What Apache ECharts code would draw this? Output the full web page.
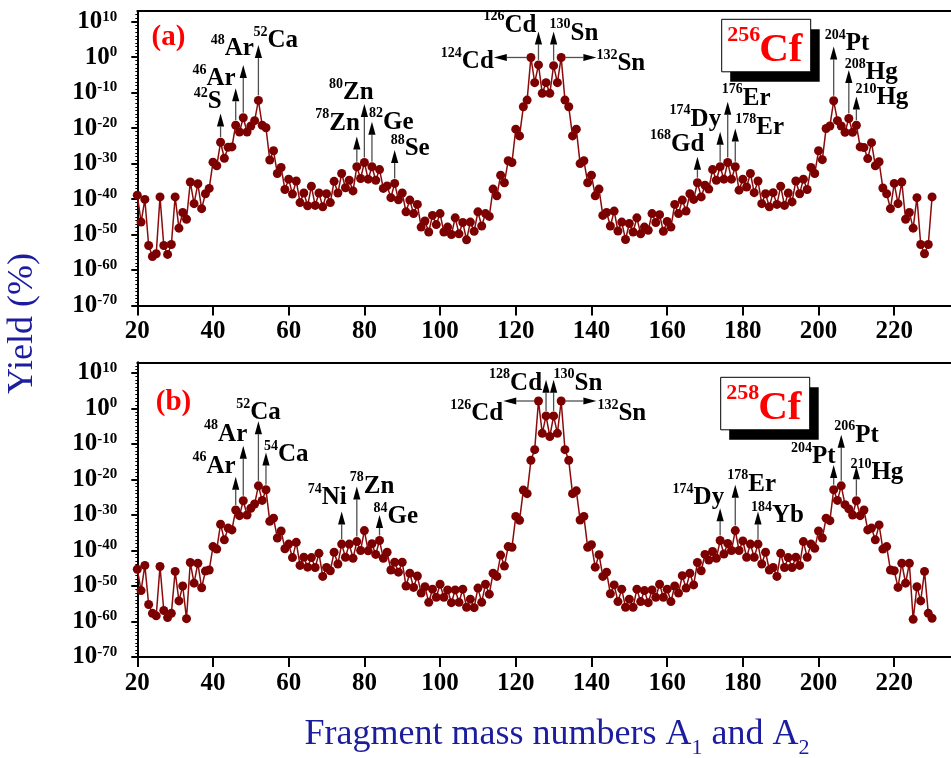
<!DOCTYPE html>
<html>
<head>
<meta charset="utf-8">
<script src="https://cdn.jsdelivr.net/npm/echarts@6/dist/echarts.min.js"></script>
<style>
  html, body { margin: 0; padding: 0; background: #ffffff; }
  #chart { width: 951px; height: 758px; }
</style>
</head>
<body>
<div id="chart"></div>
<script>
// Fission fragment yields, stored as log10(yield %) for mass numbers A = 20 ... 230
const massStart = 20;

const logYield256Cf = [
  -38.9, -46.5, -40.1, -53.1, -56.2, -55.4, -39.4, -53.1, -55.6, -52.8,   // 20-29
  -39.4, -48.2, -43.8, -45.7, -35.2, -41.3, -35.7, -42.7, -38.5, -37.0,   // 30-39
  -29.6, -30.6, -24.0, -28.5, -25.4, -25.3, -19.2, -21.1, -17.1, -21.1,   // 40-49
  -19.4, -17.9, -12.2, -19.2, -19.9, -29.0, -26.4, -32.8, -31.1, -37.3,   // 50-59
  -34.4, -38.6, -34.9, -41.0, -38.3, -41.9, -36.4, -41.8, -38.3, -42.2,   // 60-69
  -38.5, -41.0, -35.0, -38.3, -32.8, -36.8, -34.7, -37.7, -30.9, -34.2,   // 70-79
  -29.7, -34.4, -30.9, -34.7, -31.7, -37.0, -36.3, -39.6, -35.6, -40.2,   // 80-89
  -38.3, -43.6, -40.3, -44.1, -41.5, -47.9, -46.2, -49.3, -44.6, -47.2,   // 90-99
  -44.1, -49.3, -47.9, -50.0, -45.3, -49.8, -46.6, -51.5, -46.5, -49.1,   // 100-109
  -43.6, -47.6, -44.1, -44.9, -37.2, -39.1, -33.3, -35.4, -29.2, -29.7,   // 110-119
  -20.3, -22.2, -14.0, -12.1,  -0.1,  -7.2,  -2.2, -10.2,  -7.2, -10.2,   // 120-129
   -2.4,  -7.2,  -0.1, -12.1, -14.0, -22.2, -20.3, -30.0, -29.2, -35.4,   // 130-139
  -33.3, -39.1, -37.2, -44.6, -43.8, -47.6, -43.4, -49.0, -46.5, -51.4,   // 140-149
  -46.9, -49.3, -45.3, -49.8, -47.9, -48.8, -44.1, -46.6, -44.4, -49.1,   // 150-159
  -46.3, -47.9, -41.5, -44.1, -40.3, -43.4, -38.5, -40.1, -35.4, -39.4,   // 160-169
  -36.1, -37.2, -31.7, -34.7, -30.9, -34.4, -29.7, -34.4, -30.9, -37.5,   // 170-179
  -34.4, -36.6, -32.8, -38.2, -34.9, -41.3, -38.5, -42.2, -38.2, -41.5,   // 180-189
  -36.4, -41.8, -38.3, -40.8, -34.9, -38.5, -34.4, -37.3, -31.1, -32.8,   // 190-199
  -26.4, -28.9, -20.1, -19.4, -12.3, -17.9, -19.4, -21.2, -17.3, -21.2,   // 200-209
  -19.2, -25.3, -25.5, -28.6, -24.1, -30.6, -29.5, -36.9, -38.5, -42.7,   // 210-219
  -35.6, -41.3, -35.2, -45.7, -43.8, -48.2, -39.6, -52.8, -55.4, -52.8,   // 220-229
  -39.4                                                                   // 230
];

const logYield258Cf = [
  -45.3, -51.3, -44.2, -55.2, -57.7, -58.4, -44.5, -56.9, -58.9, -57.7,   // 20-29
  -45.9, -54.2, -50.0, -59.2, -43.4, -49.2, -43.6, -50.5, -45.8, -45.5,   // 30-39
  -38.9, -39.6, -32.6, -37.0, -33.7, -34.2, -28.6, -30.2, -26.0, -30.0,   // 40-49
  -28.1, -26.9, -21.8, -25.9, -22.9, -31.8, -30.9, -36.5, -34.5, -39.5,   // 50-59
  -38.2, -42.0, -37.7, -44.2, -41.9, -44.7, -42.0, -44.8, -40.8, -47.3,   // 60-69
  -44.8, -45.7, -40.5, -43.8, -38.2, -41.9, -38.2, -42.2, -37.5, -40.0,   // 70-79
  -34.4, -40.1, -38.1, -41.1, -37.2, -42.2, -40.5, -45.5, -43.3, -46.1,   // 80-89
  -43.3, -50.0, -46.4, -50.4, -47.2, -52.0, -50.2, -54.6, -50.9, -53.2,   // 90-99
  -49.5, -53.2, -51.1, -54.7, -51.1, -54.6, -50.9, -56.0, -53.7, -56.1,   // 100-109
  -50.6, -54.6, -49.5, -52.3, -46.4, -47.3, -41.3, -44.4, -38.9, -39.1,   // 110-119
  -30.4, -31.5, -23.0, -24.0, -14.6, -11.6,   2.1,  -7.0,  -2.1,  -7.9,   // 120-129
   -2.1,  -7.0,   2.1, -11.6, -14.6, -24.0, -23.2, -31.4, -30.4, -39.1,   // 130-139
  -38.4, -44.7, -41.2, -47.3, -46.1, -52.2, -49.7, -54.4, -50.9, -56.0,   // 140-149
  -53.7, -56.0, -50.9, -54.4, -51.3, -54.7, -51.1, -53.2, -49.5, -53.2,   // 150-159
  -50.9, -54.4, -50.0, -52.0, -47.1, -50.6, -46.4, -49.7, -43.4, -45.7,   // 160-169
  -41.1, -42.7, -40.3, -42.2, -37.2, -41.0, -38.0, -40.0, -34.4, -40.0,   // 170-179
  -37.3, -41.9, -38.2, -41.9, -38.2, -43.8, -40.5, -45.5, -44.8, -47.3,   // 180-189
  -40.8, -44.8, -42.0, -44.8, -41.9, -44.2, -37.5, -41.9, -38.2, -39.4,   // 190-199
  -34.5, -36.5, -30.9, -31.6, -22.9, -25.9, -21.8, -27.1, -28.3, -30.0,   // 200-209
  -26.0, -30.2, -28.6, -34.2, -33.7, -37.0, -32.8, -39.6, -38.9, -45.5,   // 210-219
  -45.7, -50.4, -43.6, -49.2, -43.6, -59.4, -50.2, -54.2, -45.9, -57.7,   // 220-229
  -59.1                                                                   // 230
];

const xTicks = [20, 40, 60, 80, 100, 120, 140, 160, 180, 200, 220];
const yTicks = [-70, -60, -50, -40, -30, -20, -10, 0, 10];   // powers of ten

// Marked fragments: [mass, element, arrow tip (log10 yield), horizontal arrow tip (mass)]
const marks256 = [
  [42, 'S', -15.9], [46, 'Ar', -8.8], [48, 'Ar', -2.2], [52, 'Ca', 3.4],
  [78, 'Zn', -22.4], [80, 'Zn', -13.2], [82, 'Ge', -18.2], [88, 'Se', -26.2],
  [124, 'Cd', null, 114.2], [126, 'Cd', 7.2], [130, 'Sn', 7.2], [132, 'Sn', null, 141.3],
  [168, 'Gd', -28.1], [174, 'Dy', -21.0], [176, 'Er', -12.6], [178, 'Er', -20.1],
  [204, 'Pt', 3.0], [208, 'Hg', -3.6], [210, 'Hg', -11.1]
];
const marks258 = [
  [46, 'Ar', -19.2], [48, 'Ar', -10.5], [52, 'Ca', -3.6], [54, 'Ca', -12.4],
  [74, 'Ni', -29.0], [78, 'Zn', -22.0], [84, 'Ge', -30.0],
  [126, 'Cd', null, 116.7], [128, 'Cd', 8.1], [130, 'Sn', 8.1], [132, 'Sn', null, 141.3],
  [174, 'Dy', -28.1], [178, 'Er', -21.5], [184, 'Yb', -29.0],
  [204, 'Pt', -15.9], [206, 'Pt', -7.4], [210, 'Hg', -16.3]
];

// Label placement next to each arrow head: [text alignment, dx, dy] in pixels
const place256 = [
  ['right', 1, -13], ['right', 0, -11], ['center', -11, -18], ['left', -5, -6],
  ['right', 3, -15], ['center', -13, -13], ['left', -3, -1], ['left', -4, -3],
  ['right', 0, 3], ['right', -2, -8], ['left', -4, 0], ['left', 0, 5],
  ['right', 7, -14], ['right', 1, -14], ['left', -6, -5], ['left', 0, -2],
  ['left', -9, -4], ['left', -4, 1], ['left', -1, 0]
];
const place258 = [
  ['right', 0, -12], ['right', 4, -13], ['center', 0, -10], ['left', -2, 1],
  ['right', 5, -15], ['left', -7, -2], ['left', -6, 0],
  ['right', 0, 11], ['right', -4, 2], ['left', 0, 2], ['left', 1, 11],
  ['right', 4, -12], ['left', -8, -2], ['left', -7, 3],
  ['right', 2, -10], ['left', -7, -1], ['left', -6, 5]
];

const SERIF = "'Times New Roman', 'Liberation Serif', serif";
const LINE_RED = '#8b0a0a';
const DOT_RED = '#7d0000';
const TITLE_BLUE = '#1c1c9e';

const isoRich = {
  m: { fontSize: 14, fontWeight: 'bold', fontFamily: SERIF, lineHeight: 14, verticalAlign: 'top', fill: '#000' },
  e: { fontSize: 25, fontWeight: 'bold', fontFamily: SERIF, lineHeight: 28, verticalAlign: 'bottom', fill: '#000' }
};

function toPoints(arr) {
  return arr.map((v, i) => [massStart + i, v]);
}

function makeGrid(top, height) {
  return { left: 137.3, top: top, width: 833, height: height, containLabel: false };
}

function bottomAxis(gi) {
  return {
    type: 'value', gridIndex: gi, position: 'bottom',
    min: 20, max: 235, interval: 20,
    axisLine: { show: true, onZero: false, lineStyle: { color: '#000', width: 2 } },
    axisTick: { show: true, length: 10, customValues: xTicks, lineStyle: { color: '#000', width: 2 } },
    axisLabel: {
      show: true, customValues: xTicks, margin: 14,
      fontFamily: SERIF, fontWeight: 'bold', fontSize: 25, color: '#000'
    },
    splitLine: { show: false }
  };
}

function topAxis(gi) {
  return {
    type: 'value', gridIndex: gi, position: 'top',
    min: 20, max: 235,
    axisLine: { show: true, onZero: false, lineStyle: { color: '#000', width: 2 } },
    axisTick: { show: false }, axisLabel: { show: false }, splitLine: { show: false }
  };
}

function logAxis(gi) {
  return {
    type: 'value', gridIndex: gi,
    min: -70, max: 13, interval: 10,
    axisLine: { show: true, onZero: false, lineStyle: { color: '#000', width: 2 } },
    axisTick: { show: true, length: 6, customValues: yTicks, lineStyle: { color: '#000', width: 2 } },
    minorTick: { show: true, splitNumber: 10, length: 2, lineStyle: { color: '#000', width: 1 } },
    axisLabel: {
      show: true, customValues: yTicks, margin: 20,
      formatter: v => '{b|10}{s|' + v + '}',
      rich: {
        b: { fontFamily: SERIF, fontWeight: 'bold', fontSize: 25, lineHeight: 25, padding: [3, 0, 0, 0], verticalAlign: 'bottom', color: '#000' },
        s: { fontFamily: SERIF, fontWeight: 'bold', fontSize: 15, lineHeight: 15, verticalAlign: 'top', color: '#000' }
      }
    },
    splitLine: { show: false }
  };
}

function yieldSeries(k, arr) {
  return {
    type: 'line', xAxisIndex: k * 2, yAxisIndex: k,
    data: toPoints(arr),
    symbol: 'circle', symbolSize: 9,
    lineStyle: { color: LINE_RED, width: 1.5 },
    itemStyle: { color: DOT_RED },
    z: 3, silent: true
  };
}

// Arrows from a marked fragment up (or sideways) to its isotope label
function markSeries(k, arr, marks, place) {
  return {
    type: 'custom', xAxisIndex: k * 2, yAxisIndex: k,
    clip: false, silent: true, z: 10,
    data: marks.map(m => [m[0], arr[m[0] - massStart]]),
    renderItem: function (params, api) {
      const m = marks[params.dataIndex];
      const p = place[params.dataIndex];
      const v = arr[m[0] - massStart];
      const pt = api.coord([m[0], v]);
      let start, tip;
      if (m[2] == null) {
        tip = api.coord([m[3], v]);
        const s = tip[0] < pt[0] ? -1 : 1;
        start = [pt[0] + s * 4, pt[1]];
      } else {
        tip = api.coord([m[0], m[2]]);
        start = [pt[0], pt[1] - 5];
      }
      const dx = tip[0] - start[0], dy = tip[1] - start[1];
      const len = Math.hypot(dx, dy) || 1;
      const ux = dx / len, uy = dy / len;
      const hl = 13, hw = 3.6;
      const bx = tip[0] - ux * hl, by = tip[1] - uy * hl;
      return {
        type: 'group',
        children: [
          { type: 'line', shape: { x1: start[0], y1: start[1], x2: bx, y2: by },
            style: { stroke: '#505050', lineWidth: 1.3 } },
          { type: 'polygon', shape: { points: [[tip[0], tip[1]], [bx - uy * hw, by + ux * hw], [bx + uy * hw, by - ux * hw]] },
            style: { fill: '#000' } },
          { type: 'text', x: tip[0] + p[1], y: tip[1] + p[2],
            style: { text: '{m|' + m[0] + '}{e|' + m[1] + '}', rich: isoRich, align: p[0], verticalAlign: 'middle', fill: '#000' } }
        ]
      };
    }
  };
}

function nucleusBox(left, top, mass) {
  return [
    { type: 'rect', shape: { x: left + 8.5, y: top + 10, width: 89.5, height: 52.5 }, style: { fill: '#000' }, z: 20 },
    { type: 'rect', shape: { x: left, y: top, width: 89, height: 52.5 }, style: { fill: '#fff', stroke: '#000', lineWidth: 1 }, z: 21 },
    { type: 'text', x: left + 38.5, y: top + 16, z: 22,
      style: { text: mass, fontFamily: SERIF, fontWeight: 'bold', fontSize: 22, fill: '#ff0000', align: 'right', verticalAlign: 'middle' } },
    { type: 'text', x: left + 37.5, y: top + 31.5, z: 22,
      style: { text: 'Cf', fontFamily: SERIF, fontWeight: 'bold', fontSize: 41, fill: '#ff0000', align: 'left', verticalAlign: 'middle' } }
  ];
}

const chart = echarts.init(document.getElementById('chart'), null, { renderer: 'canvas' });

chart.setOption({
  animation: false,
  backgroundColor: '#ffffff',
  textStyle: { fontFamily: SERIF },
  grid: [makeGrid(11, 294.5), makeGrid(362.3, 294.7)],
  xAxis: [bottomAxis(0), topAxis(0), bottomAxis(1), topAxis(1)],
  yAxis: [logAxis(0), logAxis(1)],
  series: [
    yieldSeries(0, logYield256Cf),
    yieldSeries(1, logYield258Cf),
    markSeries(0, logYield256Cf, marks256, place256),
    markSeries(1, logYield258Cf, marks258, place258)
  ],
  graphic: [
    { type: 'text', x: 168.5, y: 38, z: 30,
      style: { text: '(a)', fontFamily: SERIF, fontWeight: 'bold', fontSize: 29, fill: '#ff0000', align: 'center', verticalAlign: 'middle' } },
    { type: 'text', x: 173.5, y: 403, z: 30,
      style: { text: '(b)', fontFamily: SERIF, fontWeight: 'bold', fontSize: 29, fill: '#ff0000', align: 'center', verticalAlign: 'middle' } },
    ...nucleusBox(721.7, 19.3, '256'),
    ...nucleusBox(720.7, 377.3, '258'),
    { type: 'text', x: 23, y: 323.5, rotation: Math.PI / 2, z: 30,
      style: { text: 'Yield (%)', fontFamily: SERIF, fontSize: 36, fill: TITLE_BLUE, align: 'center', verticalAlign: 'middle' } },
    { type: 'text', x: 557, y: 735, z: 30,
      style: {
        text: '{t|Fragment mass numbers A}{s|1}{t| and A}{s|2}',
        align: 'center', verticalAlign: 'middle',
        rich: {
          t: { fontFamily: SERIF, fontSize: 36, lineHeight: 36, verticalAlign: 'top', fill: TITLE_BLUE },
          s: { fontFamily: SERIF, fontSize: 22, lineHeight: 22, padding: [20, 0, 0, 0], verticalAlign: 'top', fill: TITLE_BLUE }
        }
      } }
  ]
});
</script>
</body>
</html>
